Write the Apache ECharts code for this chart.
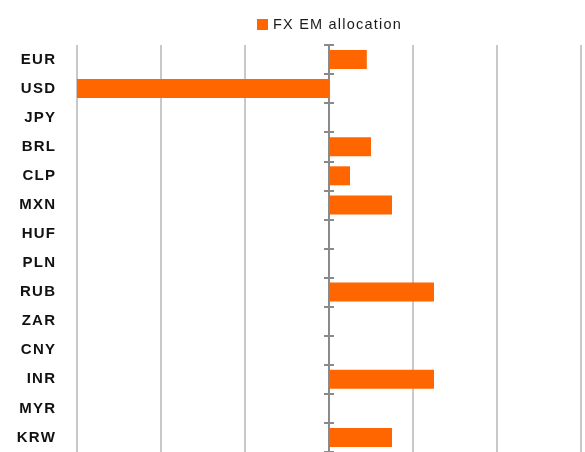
<!DOCTYPE html>
<html>
<head>
<meta charset="utf-8">
<script src="https://cdn.jsdelivr.net/npm/echarts@6/dist/echarts.min.js"></script>
<style>
  html, body { margin: 0; padding: 0; background: #fff; }
  #chart { width: 585px; height: 452px; }
</style>
</head>
<body>
<div id="chart"></div>
<script>
// Currencies, top to bottom
const currencies = ['EUR', 'USD', 'JPY', 'BRL', 'CLP', 'MXN', 'HUF', 'PLN', 'RUB', 'ZAR', 'CNY', 'INR', 'MYR', 'KRW'];
// FX EM allocation per currency (blank = no position)
const allocation = [0.45, -3, null, 0.5, 0.25, 0.75, null, null, 1.25, null, null, 1.25, null, 0.75];
const seriesName = 'FX EM allocation';
// Value axis range and gridline step
const axisMin = -3;
const axisMax = 3;
const axisStep = 1;

const spaced = s => s.split('').join('\u200A');
const font = 'Liberation Sans, Arial, sans-serif';
const axisGray = '#8a8a8a';

const chart = echarts.init(document.getElementById('chart'), null, { renderer: 'canvas' });

// Zero line with ticks crossing it: one axis draws the left half of each tick, the other the right half
const zeroAxis = (xIdx, inside) => ({
  type: 'category',
  data: currencies,
  inverse: true,
  position: 'left',
  axisLine: { show: true, onZero: true, onZeroAxisIndex: xIdx, lineStyle: { color: axisGray, width: 2 } },
  axisTick: { show: true, inside: inside, length: 5, lineStyle: { color: axisGray, width: 2 } },
  axisLabel: { show: false },
  splitLine: { show: false }
});

chart.setOption({
  animation: false,
  backgroundColor: '#ffffff',
  legend: {
    left: 252,
    top: 12,
    icon: 'rect',
    itemWidth: 11,
    itemHeight: 11,
    itemGap: 5,
    formatter: name => spaced(name),
    textStyle: { fontFamily: font, fontSize: 14.5, color: '#1a1a1a' },
    data: [seriesName]
  },
  grid: { left: 77, right: 4, top: 45, height: 410, containLabel: false },
  xAxis: [
    {
      type: 'value',
      min: axisMin, max: axisMax, interval: axisStep,
      axisLabel: { show: false },
      axisLine: { show: false },
      axisTick: { show: false },
      splitLine: { show: true, lineStyle: { color: '#c8c8c8', width: 2 } }
    },
    {
      type: 'value',
      position: 'top',
      min: axisMin, max: axisMax, interval: axisStep,
      axisLabel: { show: false },
      axisLine: { show: false },
      axisTick: { show: false },
      splitLine: { show: false }
    }
  ],
  yAxis: [
    {
      type: 'category',
      data: currencies,
      inverse: true,
      position: 'left',
      axisLine: { show: false, onZero: false },
      axisTick: { show: false },
      axisLabel: {
        margin: 22,
        padding: [4, 0, 0, 0],
        formatter: v => spaced(v),
        fontFamily: font, fontSize: 15, fontWeight: 'bold', color: '#111'
      },
      splitLine: { show: false }
    },
    zeroAxis(0, false),
    zeroAxis(1, true)
  ],
  series: [{
    name: seriesName,
    type: 'bar',
    xAxisIndex: 0,
    yAxisIndex: 0,
    data: allocation,
    barWidth: 19,
    itemStyle: { color: '#ff6600' },
    z: 1
  }]
});
</script>
</body>
</html>
